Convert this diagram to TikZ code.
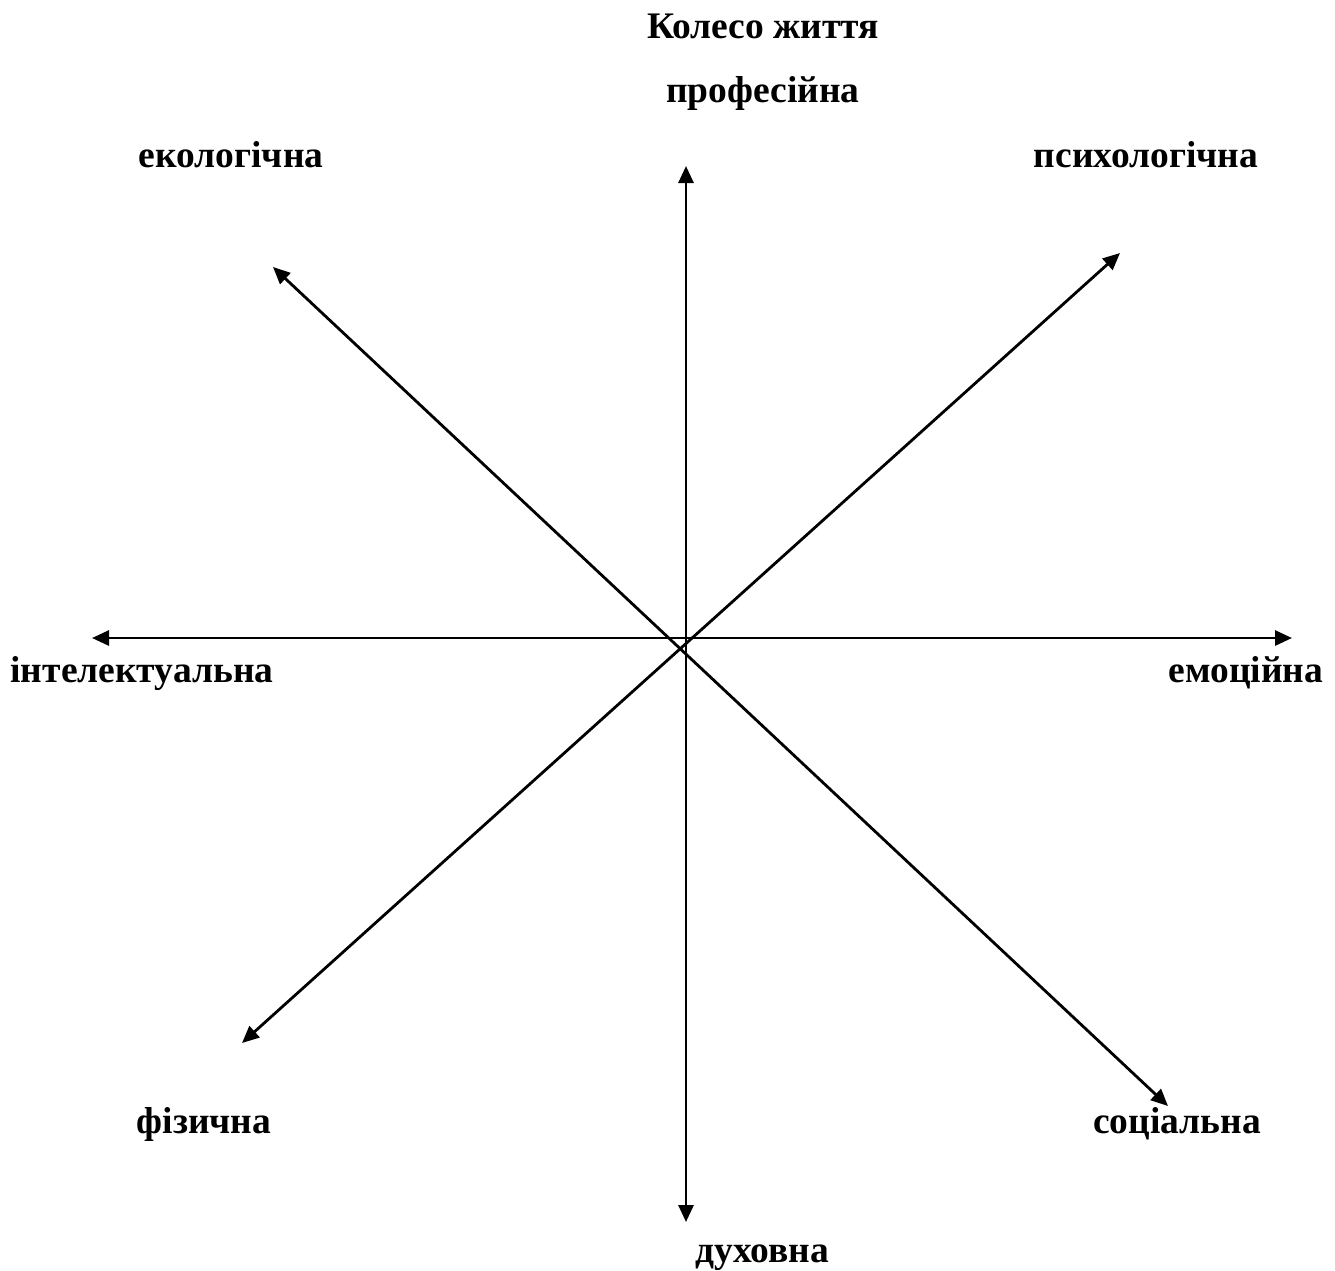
\documentclass[tikz,border=0pt]{standalone}
\usepackage{fontspec}
\setmainfont{Liberation Serif}
\usetikzlibrary{arrows.meta}
\begin{document}
\begin{tikzpicture}[x=1pt,y=-1pt,
  lbl/.style={font=\fontsize{37.5}{40}\selectfont\bfseries, inner sep=0pt, anchor=base},
  axis/.style={line width=2.8pt, {Triangle[length=17pt,width=15pt]}-{Triangle[length=17pt,width=15pt]}}]
\useasboundingbox (0,0) rectangle (1335,1270);
% labels
\node[lbl] (title) at (763,38) {Колесо життя};
\node[lbl] (prof) at (763,102) {професійна};
\node[lbl] (eko) at (231,167) {екологічна};
\node[lbl] (psy) at (1146,167) {психологічна};
\node[lbl] (int) at (142,682) {інтелектуальна};
\node[lbl] (emo) at (1246,682) {емоційна};
\node[lbl] (fiz) at (204,1133) {фізична};
\node[lbl] (soc) at (1177,1133) {соціальна};
\node[lbl] (duh) at (762,1262) {духовна};
% arrow tips
\coordinate (vt) at (686,166);
\coordinate (vb) at (686,1222);
\coordinate (hl) at (92,638);
\coordinate (hr) at (1292,638);
\coordinate (nw) at (273,267);
\coordinate (se) at (1168,1106);
\coordinate (ne) at (1120,253);
\coordinate (sw) at (242,1043);
\draw[axis] (vb) -- (vt);
\draw[axis] (hl) -- (hr);
\draw[axis] (se) -- (nw);
\draw[axis] (sw) -- (ne);
\end{tikzpicture}
\end{document}
